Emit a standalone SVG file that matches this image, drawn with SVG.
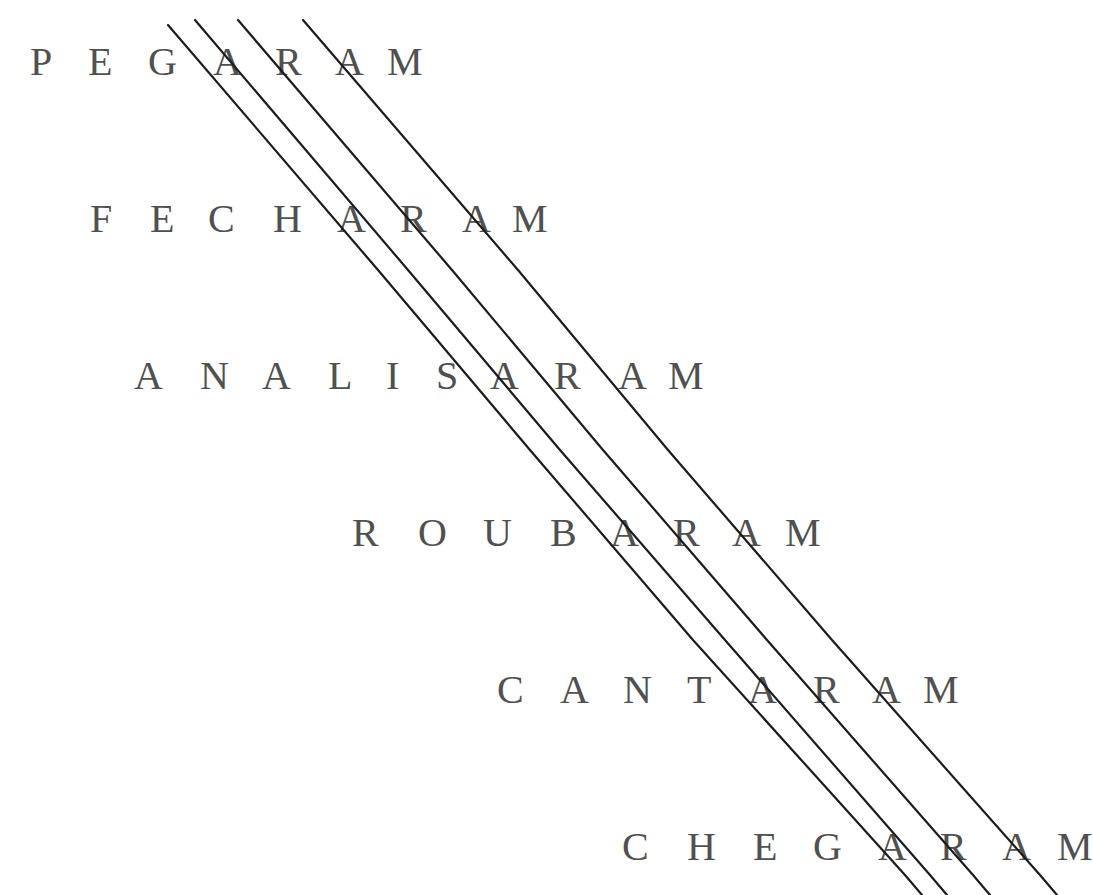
<svg xmlns="http://www.w3.org/2000/svg" width="1093" height="895" viewBox="0 0 1093 895">
<style>
.w{font-family:"Liberation Serif","Times New Roman",serif;font-size:40px;fill:#505050}
.ln{fill:none;stroke:#1c1c1c;stroke-width:2.2;stroke-linecap:round;stroke-linejoin:round}
</style>
<rect width="1093" height="895" fill="#fff"/>
<g id="pegaram"><text class="w" x="30 88 148 213 275 335 387" y="75">PEGARAM</text></g>
<g id="fecharam"><text class="w" x="90 150 208 273 337 400 462 512" y="232">FECHARAM</text></g>
<g id="analisaram"><text class="w" x="134 200 262 328 386 436 490 554 618 668" y="389">ANALISARAM</text></g>
<g id="roubaram"><text class="w" x="352 418 483 550 610 673 732 785" y="546">ROUBARAM</text></g>
<g id="cantaram"><text class="w" x="497 560 623 687 748 813 872 923" y="703">CANTARAM</text></g>
<g id="chegaram"><text class="w" x="622 687 753 813 878 940 1002 1057" y="860">CHEGARAM</text></g>
<g id="connectors">
<polyline class="ln" points="168,25 378,270 530,450 693,640 905,875 922,895"/>
<polyline class="ln" points="195,20 408,270 560,450 725,640 930,875 947,895"/>
<polyline class="ln" points="238,20 452,270 603,450 767,640 973,875 990,895"/>
<polyline class="ln" points="303,20 518,270 668,450 832,640 1040,875 1057,895"/>
</g>
</svg>
